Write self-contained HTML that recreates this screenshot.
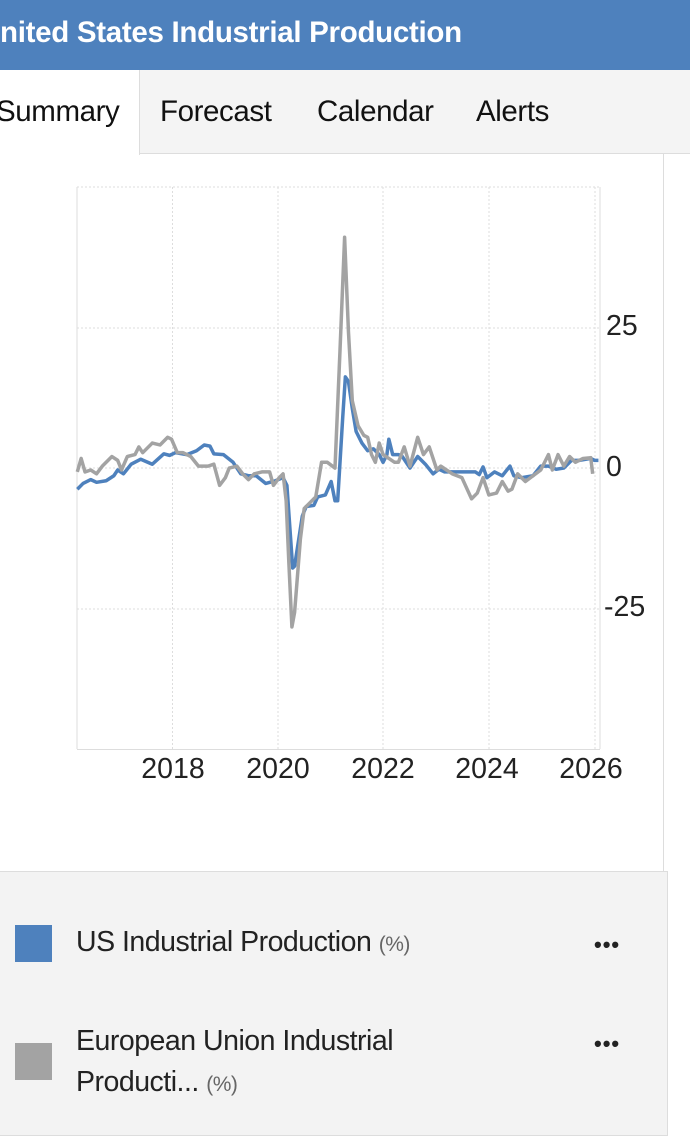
<!DOCTYPE html>
<html><head><meta charset="utf-8"><style>
*{margin:0;padding:0;box-sizing:border-box}
body{width:690px;height:1142px;background:#fff;font-family:"Liberation Sans",sans-serif;position:relative;overflow:hidden;color:#222}
.hdr{position:absolute;left:0;top:0;width:690px;height:70px;background:#4e81bd;color:#fff;font-weight:bold;font-size:29.5px;padding:16px 0 0 0;letter-spacing:-0.3px;white-space:nowrap}
.tabs{position:absolute;left:0;top:70px;width:690px;height:84px;background:#f4f4f4;border-bottom:1px solid #ddd}
.tab{position:absolute;font-size:29.5px;letter-spacing:-0.4px;color:#111}
.sum{position:absolute;left:0;top:70px;width:140px;height:85px;background:#fff;border-right:1px solid #ddd}
.vline{position:absolute;left:663px;top:154px;width:1px;height:720px;background:#ddd}
.leg{position:absolute;left:-1px;top:871px;width:669px;height:265px;background:#f3f3f3;border:1px solid #ddd}
.sq{position:absolute;left:15px;width:37px;height:37px}
.lt{position:absolute;left:76px;font-size:28.5px;letter-spacing:-0.5px;color:#222;line-height:41px}
.u{font-size:21px;color:#666}
.dots{position:absolute;left:594px;font-size:22px;font-weight:bold;letter-spacing:1px;color:#222}
</style></head><body>
<div class="hdr">nited States Industrial Production</div>
<div class="tabs"></div>
<div class="sum"></div>
<div class="tab" style="left:-4px;top:95px">Summary</div>
<div class="tab" style="left:160px;top:95px">Forecast</div>
<div class="tab" style="left:317px;top:95px">Calendar</div>
<div class="tab" style="left:476px;top:95px">Alerts</div>
<div class="vline"></div>
<svg width="690" height="860" style="position:absolute;left:0;top:0">
<g stroke="#ddd" stroke-width="1" stroke-dasharray="2,2">
<line x1="77" y1="187" x2="600" y2="187"/>
<line x1="77" y1="328" x2="600" y2="328"/>
<line x1="77" y1="468" x2="600" y2="468"/>
<line x1="77" y1="609" x2="600" y2="609"/>
<line x1="172.5" y1="187" x2="172.5" y2="749"/>
<line x1="278" y1="187" x2="278" y2="749"/>
<line x1="383" y1="187" x2="383" y2="749"/>
<line x1="489" y1="187" x2="489" y2="749"/>
<line x1="595" y1="187" x2="595" y2="749"/>
</g>
<line x1="77" y1="187" x2="77" y2="749" stroke="#ddd"/>
<line x1="77" y1="749.5" x2="600" y2="749.5" stroke="#ddd"/>
<line x1="600" y1="187" x2="600" y2="749" stroke="#ddd"/>
<g font-size="28.5" fill="#222" font-family="Liberation Sans,sans-serif">
<text x="606" y="335">25</text>
<text x="606" y="476">0</text>
<text x="604" y="616">-25</text>
<text x="173" y="778" text-anchor="middle">2018</text>
<text x="278" y="778" text-anchor="middle">2020</text>
<text x="383" y="778" text-anchor="middle">2022</text>
<text x="487" y="778" text-anchor="middle">2024</text>
<text x="591" y="778" text-anchor="middle">2026</text>
</g>
<g transform="translate(60,170) scale(0.3846)" fill="none" stroke-linejoin="round">
<polyline vector-effect="non-scaling-stroke" stroke="#4e81bd" stroke-width="3.5" points="45,830 60,815 80,805 95,812 120,808 140,795 150,780 165,790 185,765 210,752 240,765 270,738 285,742 300,735 330,740 355,730 375,715 390,718 400,738 425,740 450,760 470,790 490,795 510,795 535,815 560,808 580,800 590,820 605,1035 610,1030 630,900 640,875 660,872 670,850 690,845 705,810 715,860 722,860 735,645 742,538 750,550 760,620 770,680 785,710 800,730 815,725 830,740 840,760 850,740 855,700 865,740 880,740 890,745 910,775 930,745 950,765 970,790 985,778 1000,785 1030,785 1080,785 1090,792 1100,772 1110,800 1130,785 1150,795 1170,770 1180,795 1200,800 1230,795 1250,770 1270,770 1290,778 1310,775 1330,755 1350,755 1380,750 1390,755 1400,755"/>
<polyline vector-effect="non-scaling-stroke" stroke="#a3a3a3" stroke-width="3.5" points="45,785 55,750 65,785 80,780 95,790 110,770 135,745 150,755 160,780 175,745 195,740 205,720 215,735 240,710 260,715 280,695 290,700 305,735 320,735 340,745 360,770 385,770 400,765 415,820 430,800 440,775 460,770 475,790 490,805 505,790 525,785 545,785 555,820 570,800 580,790 588,860 595,1020 603,1188 610,1150 625,960 635,880 650,865 665,850 680,760 695,760 715,775 728,470 740,175 750,420 760,600 775,665 790,690 800,695 810,740 820,760 830,710 840,740 855,750 870,760 880,760 895,720 910,770 930,695 945,740 960,720 980,780 990,770 1005,780 1020,790 1045,800 1070,855 1085,840 1100,800 1115,845 1135,840 1150,810 1165,835 1175,830 1190,790 1210,810 1230,795 1250,780 1270,740 1280,780 1295,740 1310,770 1325,745 1340,760 1360,750 1380,748 1385,790"/>
</g>
</svg>
<div class="leg"></div>
<div class="sq" style="top:925px;background:#4e81bd"></div>
<div class="lt" style="top:922px">US Industrial Production <span class="u">(%)</span></div>
<div class="dots" style="top:932px">•••</div>
<div class="sq" style="top:1043px;background:#a3a3a3"></div>
<div class="lt" style="top:1021px">European Union Industrial<br>Producti... <span class="u">(%)</span></div>
<div class="dots" style="top:1031px">•••</div>
</body></html>
